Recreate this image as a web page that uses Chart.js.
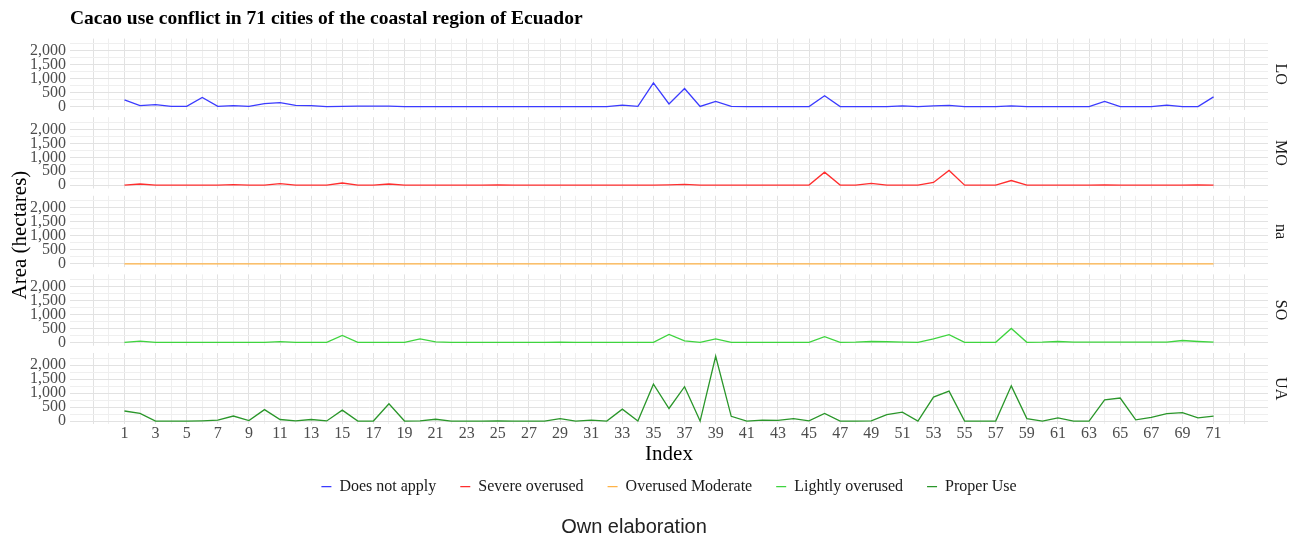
<!DOCTYPE html>
<html>
<head>
<meta charset="utf-8">
<script src="https://cdn.jsdelivr.net/npm/chart.js@4/dist/chart.umd.min.js"></script>
<style>
  body { margin: 0; background: #fff; }
</style>
</head>
<body>
<canvas id="myChart" width="1295" height="546"></canvas>
<script>
var ctx = document.getElementById('myChart').getContext('2d')

// city index 1..71
var cities = Array.from({ length: 71 }, (_, i) => i + 1)
var panels = ['LO', 'MO', 'na', 'SO', 'UA']
var seriesNames = ['Does not apply', 'Severe overused', 'Overused Moderate', 'Lightly overused', 'Proper Use']
var colors = ['#3b3bff', '#ff2e2e', '#ffb347', '#3fd43f', '#2a962a']
var yTickLabels = [0, 500, 1000, 1500, 2000]
var yGridValues = [0, 250, 500, 750, 1000, 1250, 1500, 1750, 2000, 2250]
var xGridValues = Array.from({ length: 75 }, (_, i) => i - 1)

// area (hectares) per city
var doesNotApply = [240, 40, 70, 10, 10, 330, 10, 35, 10, 110,
  145, 45, 35, 5, 10, 20, 20, 20, 5, 5,
  5, 5, 5, 5, 5, 5, 5, 5, 5, 5,
  5, 5, 55, 10, 850, 95, 650, 10, 185, 10,
  5, 5, 5, 5, 5, 390, 5, 5, 5, 5,
  30, 5, 30, 45, 5, 5, 5, 25, 5, 5,
  5, 5, 5, 185, 5, 5, 5, 55, 5, 5,
  350]
var severeOverused = [5, 45, 5, 5, 5, 5, 5, 20, 5, 5,
  55, 5, 5, 5, 80, 5, 5, 45, 5, 5,
  5, 5, 5, 5, 15, 5, 5, 5, 5, 5,
  5, 5, 5, 5, 5, 15, 35, 5, 5, 5,
  5, 5, 5, 5, 5, 470, 5, 5, 70, 5,
  5, 5, 100, 530, 5, 5, 5, 170, 5, 5,
  5, 5, 5, 10, 5, 5, 5, 5, 5, 10,
  5]
var overusedModerate = [0, 0, 0, 0, 0, 0, 0, 0, 0, 0,
  0, 0, 0, 0, 0, 0, 0, 0, 0, 0,
  0, 0, 0, 0, 0, 0, 0, 0, 0, 0,
  0, 0, 0, 0, 0, 0, 0, 0, 0, 0,
  0, 0, 0, 0, 0, 0, 0, 0, 0, 0,
  0, 0, 0, 0, 0, 0, 0, 0, 0, 0,
  0, 0, 0, 0, 0, 0, 0, 0, 0, 0,
  0]
var lightlyOverused = [5, 45, 5, 5, 5, 5, 5, 5, 5, 5,
  30, 5, 5, 5, 250, 5, 5, 5, 5, 125,
  20, 5, 5, 5, 5, 5, 5, 5, 15, 5,
  5, 5, 5, 5, 5, 285, 55, 5, 130, 5,
  5, 5, 5, 5, 5, 210, 5, 10, 35, 25,
  10, 5, 130, 280, 5, 5, 5, 500, 5, 10,
  35, 10, 10, 10, 10, 10, 10, 10, 70, 35,
  10]
var properUse = [360, 275, 0, 0, 0, 10, 30, 180, 20, 410,
  55, 5, 55, 5, 390, 0, 0, 620, 0, 10,
  65, 0, 0, 0, 10, 0, 0, 0, 90, 0,
  30, 0, 425, 0, 1320, 450, 1230, 0, 2320, 170,
  0, 35, 25, 90, 10, 275, 0, 0, 10, 230,
  320, 0, 860, 1070, 0, 0, 0, 1260, 90, 0,
  115, 0, 0, 755, 825, 45, 135, 265, 300, 115,
  180]
var seriesValues = [doesNotApply, severeOverused, overusedModerate, lightlyOverused, properUse]

var serif = 'Liberation Serif'
var yMin = -116
var yMax = 2436
var gap = 261 // white space under each panel, in data units
var majorGrid = '#e2e2e2'
var minorGrid = '#efefef'

var datasets = seriesNames.map(function (name, i) {
  return {
    label: name,
    data: seriesValues[i].map(function (v, j) { return { x: cities[j], y: v } }),
    yAxisID: 'y' + panels[i],
    borderColor: colors[i],
    backgroundColor: colors[i],
    borderWidth: 1.3,
    pointRadius: 0,
    tension: 0,
  }
})

var scales = {
  x: {
    type: 'linear',
    min: -2.5,
    max: 74.5,
    afterBuildTicks: function (s) {
      s.ticks = xGridValues.map(function (v) { return { value: v } })
    },
    border: { display: false },
    grid: {
      drawTicks: false,
      color: function (c) {
        var v = c.tick ? c.tick.value : 0
        return Math.abs(v % 2) === 1 ? majorGrid : minorGrid
      },
    },
    ticks: {
      autoSkip: false,
      maxRotation: 0,
      padding: 1,
      color: '#4d4d4d',
      font: { family: serif, size: 16, lineHeight: 1 },
      callback: function (v) {
        return v >= 1 && v <= 71 && v % 2 === 1 ? String(v) : ''
      },
    },
    title: {
      display: true,
      text: 'Index',
      color: '#000',
      font: { family: serif, size: 21 },
      padding: { top: 0, bottom: -12.8 },
    },
  },
}

panels.forEach(function (p, i) {
  var lo = i < 4 ? yMin - gap : yMin
  scales['y' + p] = {
    type: 'linear',
    position: 'left',
    stack: 'panels',
    weight: 5 - i,
    stackWeight: yMax - lo,
    min: lo,
    max: yMax,
    afterBuildTicks: function (s) {
      s.ticks = yGridValues.map(function (v) { return { value: v } })
    },
    afterFit: function (s) { s.width = 70 },
    border: { display: false },
    grid: {
      drawTicks: false,
      color: function (c) {
        var v = c.tick ? c.tick.value : 0
        return v % 500 === 0 ? majorGrid : minorGrid
      },
    },
    ticks: {
      autoSkip: false,
      padding: 4,
      color: '#4d4d4d',
      font: { family: serif, size: 16 },
      callback: function (v) {
        return yTickLabels.indexOf(v) >= 0 ? v.toLocaleString('en-US') : ''
      },
    },
    title: {
      display: p === 'na',
      text: 'Area (hectares)',
      color: '#000',
      font: { family: serif, size: 21 },
      padding: { top: 7.4, bottom: 0 },
    },
  }
})

// white gaps between panels and strip labels on the right
var panelStrips = {
  id: 'panelStrips',
  beforeDatasetsDraw: function (chart) {
    var area = chart.chartArea
    var c = chart.ctx
    c.save()
    c.fillStyle = '#fff'
    panels.slice(0, 4).forEach(function (p) {
      var s = chart.scales['y' + p]
      var y0 = s.getPixelForValue(yMin)
      c.fillRect(area.left, y0, area.right - area.left, s.bottom - y0)
    })
    c.restore()
  },
  afterDraw: function (chart) {
    var c = chart.ctx
    c.save()
    c.fillStyle = '#1a1a1a'
    c.font = '16px "' + serif + '"'
    c.textAlign = 'center'
    c.textBaseline = 'middle'
    panels.forEach(function (p) {
      var s = chart.scales['y' + p]
      var yc = (s.getPixelForValue(yMax) + s.getPixelForValue(yMin)) / 2
      c.save()
      c.translate(1280, yc)
      c.rotate(Math.PI / 2)
      c.fillText(p, 0, 0)
      c.restore()
    })
    c.restore()
  },
}

var myChart = new Chart(ctx, {
  type: 'line',
  data: { datasets: datasets },
  plugins: [panelStrips],
  options: {
    responsive: false,
    animation: false,
    events: [],
    layout: { padding: { left: 0, right: 27, top: 0, bottom: 0 } },
    scales: scales,
    plugins: {
      title: {
        display: true,
        text: 'Cacao use conflict in 71 cities of the coastal region of Ecuador',
        align: 'start',
        fullSize: false,
        color: '#000',
        font: { family: serif, size: 19.5, weight: 'bold' },
        padding: { top: 7.5, bottom: 7.7 },
      },
      legend: {
        position: 'bottom',
        fullSize: false,
        labels: {
          usePointStyle: true,
          pointStyle: 'line',
          pointStyleWidth: 10,
          boxHeight: 10,
          padding: 24,
          color: '#1a1a1a',
          font: { family: serif, size: 16 },
        },
      },
      subtitle: {
        display: true,
        position: 'bottom',
        text: 'Own elaboration',
        color: '#222',
        font: { family: 'Liberation Sans', size: 20, weight: 'normal' },
        padding: { top: 10.3, bottom: 7 },
      },
      tooltip: { enabled: false },
    },
  },
})
</script>
</body>
</html>
